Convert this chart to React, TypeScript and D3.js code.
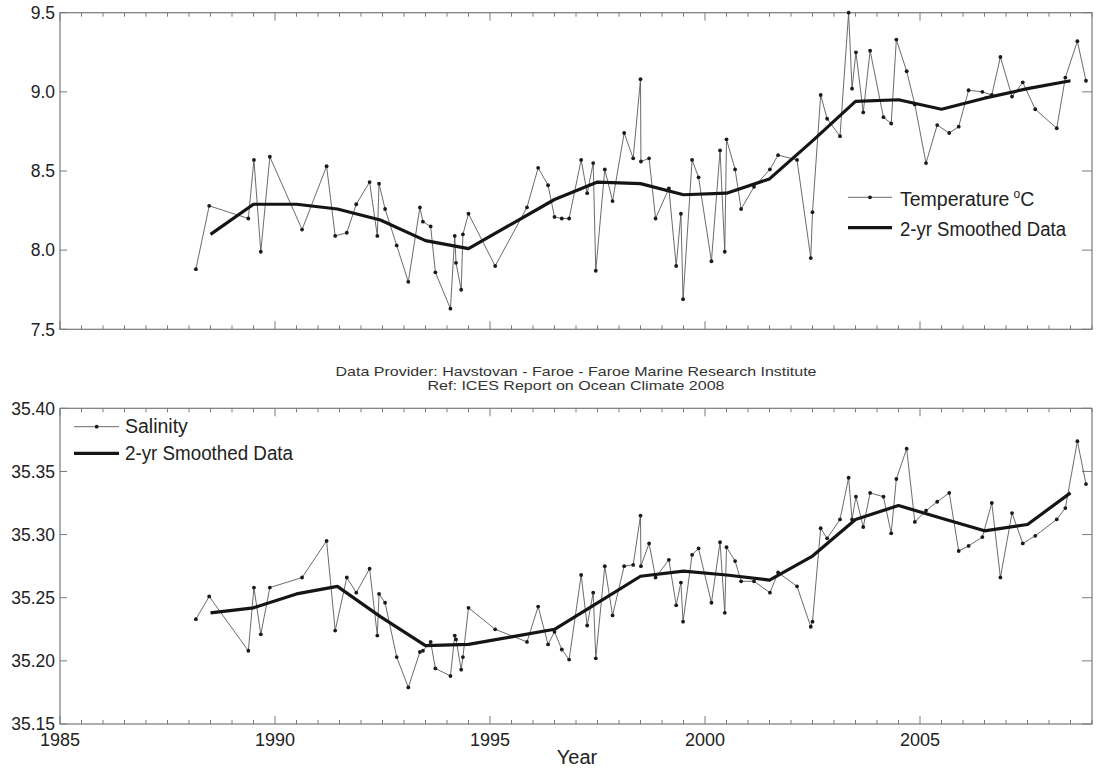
import React from 'react';
import * as d3 from 'd3';

const years = [
  1988.16, 1988.47, 1989.38, 1989.51, 1989.67, 1989.88, 1990.63, 1991.2, 1991.4, 1991.67, 1991.89,
  1992.2, 1992.38, 1992.42, 1992.56, 1992.83, 1993.1, 1993.37, 1993.44, 1993.62, 1993.73,
  1994.08, 1994.18, 1994.21, 1994.33, 1994.37, 1994.5, 1995.12, 1995.86, 1996.12, 1996.35,
  1996.5, 1996.67, 1996.84, 1997.12, 1997.26, 1997.4, 1997.46, 1997.67, 1997.85, 1998.12,
  1998.33, 1998.5, 1998.51, 1998.7, 1998.85, 1999.16, 1999.33, 1999.44, 1999.49, 1999.7,
  1999.85, 2000.15, 2000.35, 2000.46, 2000.5, 2000.7, 2000.84, 2001.14, 2001.51, 2001.7,
  2002.14, 2002.46, 2002.5, 2002.69, 2002.84, 2003.14, 2003.34, 2003.42, 2003.51, 2003.68,
  2003.84, 2004.15, 2004.33, 2004.45, 2004.69, 2004.88, 2005.14, 2005.4, 2005.68, 2005.9,
  2006.13, 2006.45, 2006.67, 2006.87, 2007.14, 2007.39, 2007.68, 2008.18, 2008.38, 2008.66,
  2008.86,
];

const temperature = [
  7.88, 8.28, 8.2, 8.57, 7.99, 8.59, 8.13, 8.53, 8.09, 8.11, 8.29,
  8.43, 8.09, 8.42, 8.26, 8.03, 7.8, 8.27, 8.18, 8.15, 7.86,
  7.63, 8.09, 7.92, 7.75, 8.1, 8.23, 7.9, 8.27, 8.52, 8.41,
  8.21, 8.2, 8.2, 8.57, 8.36, 8.55, 7.87, 8.51, 8.31, 8.74,
  8.58, 9.08, 8.56, 8.58, 8.2, 8.39, 7.9, 8.23, 7.69, 8.57,
  8.46, 7.93, 8.63, 7.99, 8.7, 8.51, 8.26, 8.4, 8.51, 8.6,
  8.57, 7.95, 8.24, 8.98, 8.83, 8.72, 9.5, 9.02, 9.25, 8.87,
  9.26, 8.84, 8.8, 9.33, 9.13, 8.92, 8.55, 8.79, 8.74, 8.78,
  9.01, 9.0, 8.98, 9.22, 8.97, 9.06, 8.89, 8.77, 9.09, 9.32,
  9.07,
];

const salinity = [
  35.233, 35.251, 35.208, 35.258, 35.221, 35.258, 35.266, 35.295, 35.224, 35.266, 35.254,
  35.273, 35.22, 35.253, 35.246, 35.203, 35.179, 35.207, 35.208, 35.215, 35.194,
  35.188, 35.22, 35.217, 35.193, 35.203, 35.242, 35.225, 35.215, 35.243, 35.213,
  35.223, 35.209, 35.201, 35.268, 35.228, 35.254, 35.202, 35.275, 35.236, 35.275,
  35.276, 35.315, 35.275, 35.293, 35.266, 35.28, 35.244, 35.262, 35.231, 35.284,
  35.289, 35.246, 35.294, 35.238, 35.29, 35.279, 35.263, 35.263, 35.254, 35.27,
  35.259, 35.227, 35.231, 35.305, 35.297, 35.312, 35.345, 35.312, 35.33, 35.306,
  35.333, 35.33, 35.301, 35.344, 35.368, 35.31, 35.319, 35.326, 35.333, 35.287,
  35.291, 35.298, 35.325, 35.266, 35.317, 35.293, 35.299, 35.312, 35.321, 35.374,
  35.34,
];

const smoothYears = [
  1988.5, 1989.5, 1990.5, 1991.45, 1992.45, 1993.5, 1994.5, 1995.5, 1996.5, 1997.5, 1998.5,
  1999.5, 2000.5, 2001.5, 2002.5, 2003.5, 2004.5, 2005.5, 2006.5, 2007.5, 2008.5,
];
const tempSmooth = [
  8.1, 8.29, 8.29, 8.26, 8.19, 8.06, 8.01, 8.165, 8.32, 8.43, 8.42,
  8.35, 8.36, 8.45, 8.69, 8.94, 8.95, 8.89, 8.96, 9.02, 9.07,
];
const salSmooth = [
  35.238, 35.242, 35.253, 35.259, 35.235, 35.212, 35.213, 35.219, 35.225, 35.246, 35.267,
  35.271, 35.268, 35.264, 35.283, 35.312, 35.323, 35.313, 35.303, 35.308, 35.333,
];

const tempTicks = [7.5, 8.0, 8.5, 9.0, 9.5];
const salTicks = [35.15, 35.2, 35.25, 35.3, 35.35, 35.4];
const yearTicks = [1985, 1990, 1995, 2000, 2005];

const FONT = 'Liberation Sans, Arial, Helvetica, sans-serif';
const AXIS = '#7a7a7a';
const X0 = 60;
const X1 = 1092;

const x = d3.scaleLinear().domain([1985, 2009]).range([X0, X1]);
const minorYears = d3.range(1985, 2009.001, 0.5);

type PanelProps = {
  y: d3.ScaleLinear<number, number>;
  ticks: number[];
  fmt: (v: number) => string;
  values: number[];
  smooth: number[];
  showX: boolean;
};

function Panel({ y, ticks, fmt, values, smooth, showX }: PanelProps) {
  const [yb, yt] = y.range();
  const pts = years.map((yr, i) => [x(yr), y(values[i])] as [number, number]);
  const rawLine = d3.line()(pts) || '';
  const smoothLine =
    d3.line()(smoothYears.map((yr, i) => [x(yr), y(smooth[i])] as [number, number])) || '';
  return (
    <g>
      {minorYears.map((yr) => {
        const major = Math.abs(yr % 5) < 1e-6;
        const len = major ? 8 : 4;
        const xx = x(yr);
        return (
          <g key={'xt' + yr} stroke={AXIS} strokeWidth={1}>
            <line x1={xx} x2={xx} y1={yt} y2={yt + len} />
            <line x1={xx} x2={xx} y1={yb} y2={yb - len} />
          </g>
        );
      })}
      {ticks.map((t) => (
        <g key={'yt' + t} stroke={AXIS} strokeWidth={1}>
          <line x1={X0} x2={X0 + 7} y1={y(t)} y2={y(t)} />
          <line x1={X1} x2={X1 - 10} y1={y(t)} y2={y(t)} />
        </g>
      ))}
      <rect x={X0} y={yt} width={X1 - X0} height={yb - yt} fill="none" stroke={AXIS} strokeWidth={1.2} />
      {ticks.map((t) => (
        <text
          key={'yl' + t}
          x={55}
          y={y(t)}
          dy="0.36em"
          textAnchor="end"
          fontFamily={FONT}
          fontSize={17.5}
          fill="#222"
        >
          {fmt(t)}
        </text>
      ))}
      {showX &&
        yearTicks.map((t) => (
          <text
            key={'xl' + t}
            x={x(t)}
            y={yb + 22}
            textAnchor="middle"
            fontFamily={FONT}
            fontSize={18}
            fill="#222"
          >
            {t}
          </text>
        ))}
      <path d={rawLine} fill="none" stroke="#5a5a5a" strokeWidth={0.9} />
      {pts.map((p, i) => (
        <circle key={'p' + i} cx={p[0]} cy={p[1]} r={1.9} fill="#1a1a1a" />
      ))}
      <path d={smoothLine} fill="none" stroke="#151515" strokeWidth={3.2} strokeLinejoin="round" />
    </g>
  );
}

export default function App() {
  const yT = d3.scaleLinear().domain([7.5, 9.5]).range([329.3, 12.7]);
  const yS = d3.scaleLinear().domain([35.15, 35.4]).range([724, 408.3]);
  const f1 = d3.format('.1f');
  const f2 = d3.format('.2f');
  return (
    <svg
      width={1100}
      height={769}
      style={{ position: 'absolute', left: 0, top: 0, display: 'block', background: '#fff' }}
    >
      <rect x={0} y={0} width={1100} height={769} fill="#fff" />
      <Panel y={yT} ticks={tempTicks} fmt={f1} values={temperature} smooth={tempSmooth} showX={false} />
      <Panel y={yS} ticks={salTicks} fmt={f2} values={salinity} smooth={salSmooth} showX={true} />

      <g fontFamily={FONT} fontSize={19.5} fill="#222">
        <line x1={848} x2={892} y1={197.3} y2={197.3} stroke="#5a5a5a" strokeWidth={0.9} />
        <circle cx={870} cy={197.3} r={1.9} fill="#1a1a1a" />
        <text x={900} y={205.5}>
          Temperature
          <tspan dx={4} dy={-8} fontSize={12}>o</tspan>
          <tspan dy={8}>C</tspan>
        </text>
        <line x1={848} x2={892} y1={227.7} y2={227.7} stroke="#151515" strokeWidth={3.2} />
        <text x={900} y={235.5} textLength={166} lengthAdjust="spacingAndGlyphs">2-yr Smoothed Data</text>
      </g>

      <g fontFamily={FONT} fontSize={19.5} fill="#222">
        <line x1={74} x2={119} y1={426.7} y2={426.7} stroke="#5a5a5a" strokeWidth={0.9} />
        <circle cx={96.7} cy={426.7} r={1.9} fill="#1a1a1a" />
        <text x={125} y={433.3}>Salinity</text>
        <line x1={74} x2={119} y1={453.3} y2={453.3} stroke="#151515" strokeWidth={3.2} />
        <text x={125} y={460.3} textLength={168} lengthAdjust="spacingAndGlyphs">2-yr Smoothed Data</text>
      </g>

      <g fontFamily={FONT} fontSize={13.5} fill="#333" textAnchor="middle">
        <text x={576} y={375.5} textLength={481} lengthAdjust="spacingAndGlyphs">
          Data Provider: Havstovan - Faroe - Faroe Marine Research Institute
        </text>
        <text x={576} y={390} textLength={297} lengthAdjust="spacingAndGlyphs">
          Ref: ICES Report on Ocean Climate 2008
        </text>
      </g>

      <text x={577} y={764} textAnchor="middle" fontFamily={FONT} fontSize={20} fill="#222">
        Year
      </text>
    </svg>
  );
}
